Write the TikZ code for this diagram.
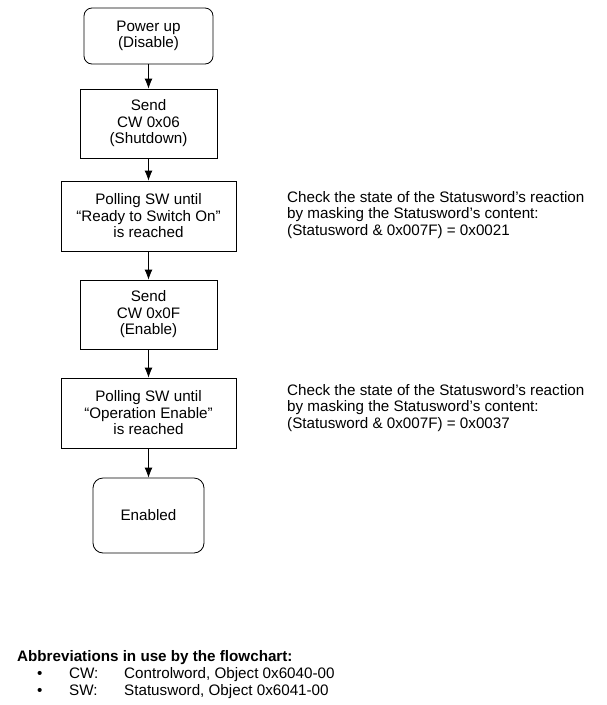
\documentclass[tikz,border=0pt]{standalone}
\usepackage{fontspec}
\setmainfont{Liberation Sans}
\usetikzlibrary{arrows.meta}
\tikzset{>={Latex[length=10pt,width=8pt]}}
\tikzset{
  stepbox/.style={draw,thick,align=center,inner sep=2pt,
    font=\fontsize{15.2}{16.5}\selectfont},
  roundbox/.style={stepbox,rounded corners=8pt},
  note/.style={align=left,inner sep=0pt,anchor=west,
    font=\fontsize{15.2}{16.2}\selectfont},
  plain/.style={inner sep=0pt,anchor=base west,
    font=\fontsize{15.2}{17}\selectfont}
}

\begin{document}
\begin{tikzpicture}[x=1pt,y=-1pt]
        \useasboundingbox (0,0) rectangle (606,705);
        % flowchart
        \node[roundbox,minimum width=129pt,minimum height=56pt] (pwr)
        at (148.5,36) {Power up\\(Disable)};
        \node[stepbox,minimum width=137pt,minimum height=69pt] (cwsix)
        at (148.5,123.5) {Send\\CW 0x06\\(Shutdown)};
        \node[stepbox,minimum width=175pt,minimum height=70pt] (pollrdy)
        at (148.5,216) {Polling SW until\\``Ready to Switch On''\\is reached};
        \node[stepbox,minimum width=137pt,minimum height=69pt] (cwf)
        at (148.5,314.5) {Send\\CW 0x0F\\(Enable)};
        \node[stepbox,minimum width=175pt,minimum height=70pt] (pollop)
        at (148.5,413) {Polling SW until\\``Operation Enable''\\is reached};
        \node[roundbox,rounded corners=10pt,minimum width=111pt,
        minimum height=75pt] (enab) at (148.5,515.5) {Enabled};
        \draw[thick,->] (pwr) -- (cwsix);
        \draw[thick,->] (cwsix) -- (pollrdy);
        \draw[thick,->] (pollrdy) -- (cwf);
        \draw[thick,->] (cwf) -- (pollop);
        \draw[thick,->] (pollop) -- (enab);
        % notes
        \node[note] (chkrdy) at (287,215) {Check the state of the
        Statusword's reaction\\by masking the Statusword's content:\\
        (Statusword \& 0x007F) = 0x0021};
        \node[note] (chkop) at (287,408) {Check the state of the
        Statusword's reaction\\by masking the Statusword's content:\\
        (Statusword \& 0x007F) = 0x0037};
        % abbreviations
        \node[plain,font=\fontsize{15.2}{17}\selectfont\bfseries] (abbr)
        at (17,661) {Abbreviations in use by the flowchart:};
        \node[plain] (bulcw) at (37,678) {\textbullet};
        \node[plain] (bulsw) at (37,695) {\textbullet};
        \node[plain] (cw) at (69,678) {CW:};
        \node[plain] (sw) at (69,695) {SW:};
        \node[plain] (cwtxt) at (124,678) {Controlword, Object 0x6040-00};
        \node[plain] (swtxt) at (124,695) {Statusword, Object 0x6041-00};
      \end{tikzpicture}
\end{document}
